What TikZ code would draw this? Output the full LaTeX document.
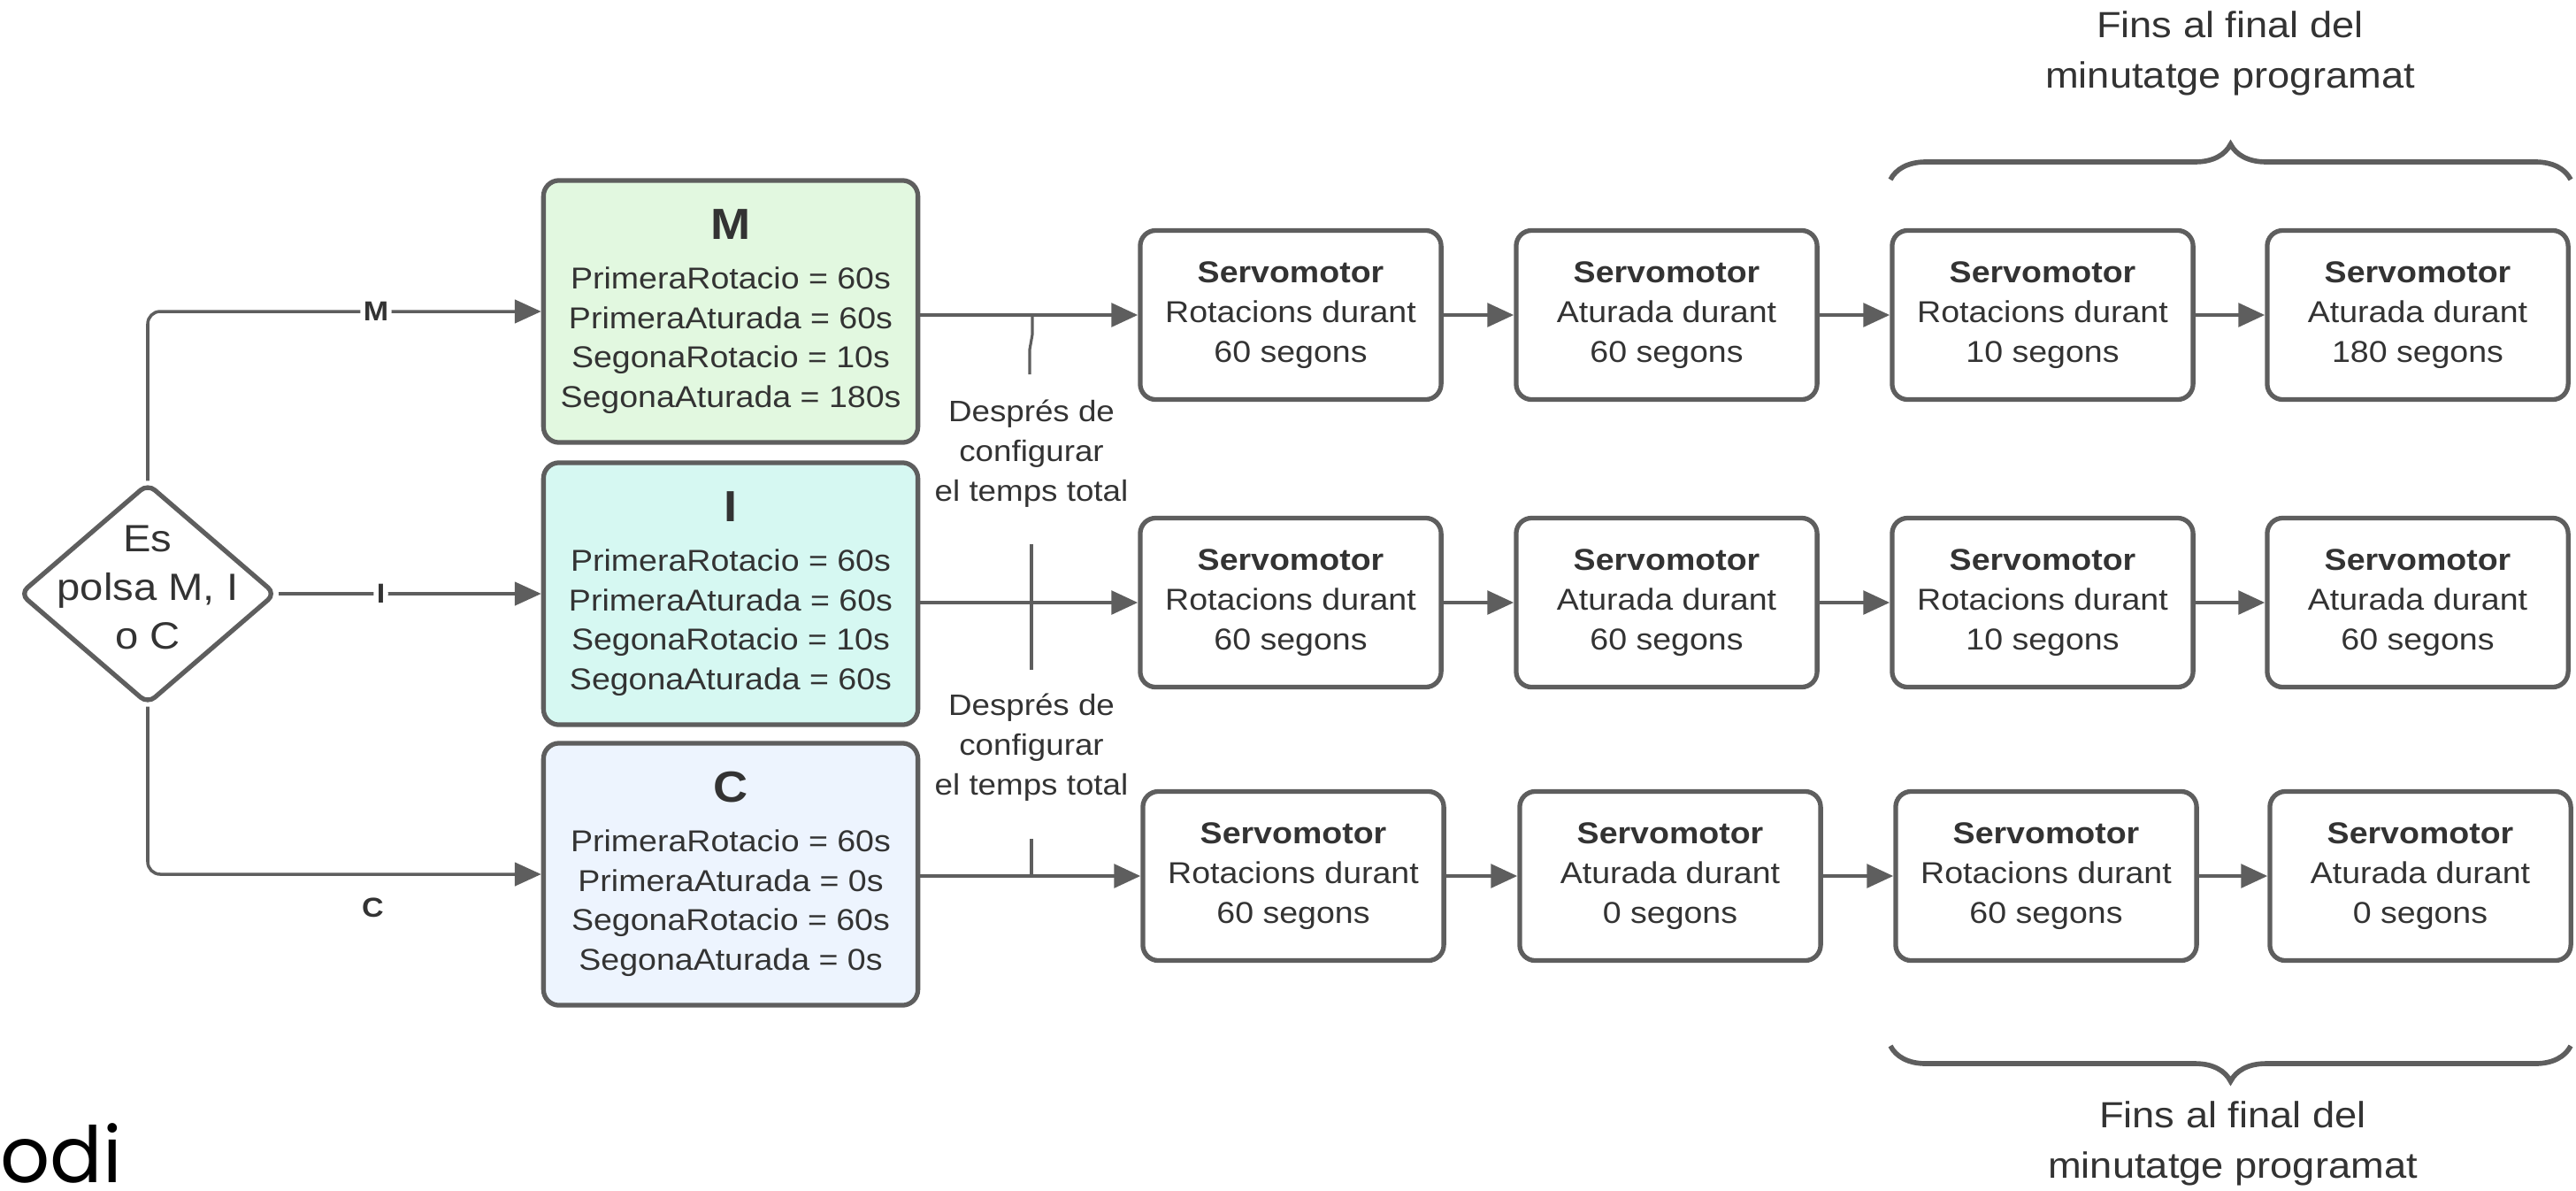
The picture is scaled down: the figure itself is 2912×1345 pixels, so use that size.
\documentclass[tikz,border=0pt]{standalone}
\usepackage{fontspec}
\setmainfont{Liberation Sans}[FakeStretch=1.1]
\newfontfamily\popfont{Poppins}
\usetikzlibrary{shapes.geometric,arrows.meta,decorations.pathreplacing}
\definecolor{ln}{HTML}{5E5E5E}
\definecolor{tx}{HTML}{333333}
\definecolor{fillM}{HTML}{E2F8E0}
\definecolor{fillI}{HTML}{D6F8F2}
\definecolor{fillC}{HTML}{EDF4FE}
\newcommand\boxtitlefont{\fontsize{14}{16}\selectfont\bfseries}
\begin{document}
\begin{tikzpicture}[x=0.01cm,y=-0.01cm,
  cfgbox/.style={draw=ln, line width=1.5pt, rounded corners=5pt, minimum width=4.23cm, minimum height=2.96cm, align=center, text=tx, inner sep=0pt, font=\fontsize{9.7}{12.7}\selectfont},
  servo/.style={draw=ln, line width=1.5pt, rounded corners=5pt, fill=white, minimum width=3.4cm, minimum height=1.91cm, align=center, text=tx, inner sep=0pt, font=\fontsize{9.7}{12.8}\selectfont},
  decision/.style={draw=ln, line width=1.5pt, diamond, rounded corners=3pt, minimum width=2.9cm, minimum height=2.5cm, inner sep=0pt},
  plain/.style={text=tx, align=center, inner sep=0pt},
  conn/.style={draw=ln, line width=1pt, rounded corners=4pt, -{Triangle[length=8.5pt,width=7.5pt]}},
  link/.style={draw=ln, line width=1.3pt, -{Triangle[length=8.5pt,width=7.5pt]}},
  tick/.style={draw=ln, line width=0.9pt},
  brc/.style={draw=ln, line width=1.6pt, decorate, decoration={brace, amplitude=0.4cm}},
  lbl/.style={text=tx, fill=white, inner sep=1pt, font=\fontsize{8.8}{10}\selectfont\bfseries}
]
\useasboundingbox (0,0) rectangle (2912,1345);

% decision
\node[decision] (d) at (167,671) {};
\node[plain, font=\fontsize{12.2}{15.7}\selectfont] (dt) at (167,664) {Es\\polsa M, I\\o C};

% configuration boxes
\node[cfgbox, fill=fillM] (Mbox) at (826,352) {{\boxtitlefont M}\\[3.2pt]PrimeraRotacio = 60s\\PrimeraAturada = 60s\\SegonaRotacio = 10s\\SegonaAturada = 180s};
\node[cfgbox, fill=fillI] (Ibox) at (826,671) {{\boxtitlefont I}\\[3.2pt]PrimeraRotacio = 60s\\PrimeraAturada = 60s\\SegonaRotacio = 10s\\SegonaAturada = 60s};
\node[cfgbox, fill=fillC] (Cbox) at (826,988) {{\boxtitlefont C}\\[3.2pt]PrimeraRotacio = 60s\\PrimeraAturada = 0s\\SegonaRotacio = 60s\\SegonaAturada = 0s};

% servo rows
\node[servo] (s11) at (1459,356) {\textbf{Servomotor}\\Rotacions durant\\60 segons};
\node[servo] (s12) at (1884,356) {\textbf{Servomotor}\\Aturada durant\\60 segons};
\node[servo] (s13) at (2309,356) {\textbf{Servomotor}\\Rotacions durant\\10 segons};
\node[servo] (s14) at (2733,356) {\textbf{Servomotor}\\Aturada durant\\180 segons};

\node[servo] (s21) at (1459,681) {\textbf{Servomotor}\\Rotacions durant\\60 segons};
\node[servo] (s22) at (1884,681) {\textbf{Servomotor}\\Aturada durant\\60 segons};
\node[servo] (s23) at (2309,681) {\textbf{Servomotor}\\Rotacions durant\\10 segons};
\node[servo] (s24) at (2733,681) {\textbf{Servomotor}\\Aturada durant\\60 segons};

\node[servo] (s31) at (1462,990) {\textbf{Servomotor}\\Rotacions durant\\60 segons};
\node[servo] (s32) at (1888,990) {\textbf{Servomotor}\\Aturada durant\\0 segons};
\node[servo] (s33) at (2313,990) {\textbf{Servomotor}\\Rotacions durant\\60 segons};
\node[servo] (s34) at (2736,990) {\textbf{Servomotor}\\Aturada durant\\0 segons};

% decision connectors
\draw[conn] (d.north) |- node[lbl, pos=0.79] {M} (Mbox.west);
\draw[conn] (d.east) -- node[lbl, pos=0.39] {I} (d.east -| Ibox.west);
\draw[conn] (d.south) |- node[lbl, pos=0.786, below=6pt, fill=none] {C} (Cbox.west);

% box to servo
\draw[link] (Mbox.east |- s11.west) -- (s11.west);
\draw[link] (Ibox.east |- s21.west) -- (s21.west);
\draw[link] (Cbox.east |- s31.west) -- (s31.west);

% servo chains
\foreach \r in {1,2,3}{
  \draw[link] (s\r1.east) -- (s\r2.west);
  \draw[link] (s\r2.east) -- (s\r3.west);
  \draw[link] (s\r3.east) -- (s\r4.west);
}

% annotations
\node[plain, font=\fontsize{9.5}{12.8}\selectfont] (n1) at (1166,513) {Després de\\configurar\\el temps total};
\node[plain, font=\fontsize{9.5}{12.8}\selectfont] (n2) at (1166,845) {Després de\\configurar\\el temps total};
\coordinate (t1a) at (1167,356);
\coordinate (t1b) at (1164,423);
\draw[tick] (t1a) -- (1167,378) -- (1164,395) -- (t1b);
\coordinate (t2a) at (1166,615);
\coordinate (t2b) at (1166,757);
\draw[tick] (t2a) -- (t2b);
\coordinate (t3a) at (1166,948);
\coordinate (t3b) at (1166,990);
\draw[tick] (t3a) -- (t3b);

% braces
\coordinate (bt1) at (2137,203);
\coordinate (bt2) at (2906,203);
\draw[brc] (bt1) -- (bt2);
\node[plain, font=\fontsize{11.7}{16.2}\selectfont] (ft) at (2521,60) {Fins al final del\\minutatge programat};
\coordinate (bb1) at (2906,1182);
\coordinate (bb2) at (2137,1182);
\draw[brc] (bb1) -- (bb2);
\node[plain, font=\fontsize{11.7}{16.2}\selectfont] (fb) at (2524,1292) {Fins al final del\\minutatge programat};

% stray text
\node[anchor=base west, inner sep=0pt, text=black, font=\popfont\fontsize{25}{25}\selectfont] (odi) at (0,1336) {odi};
\end{tikzpicture}
\end{document}
